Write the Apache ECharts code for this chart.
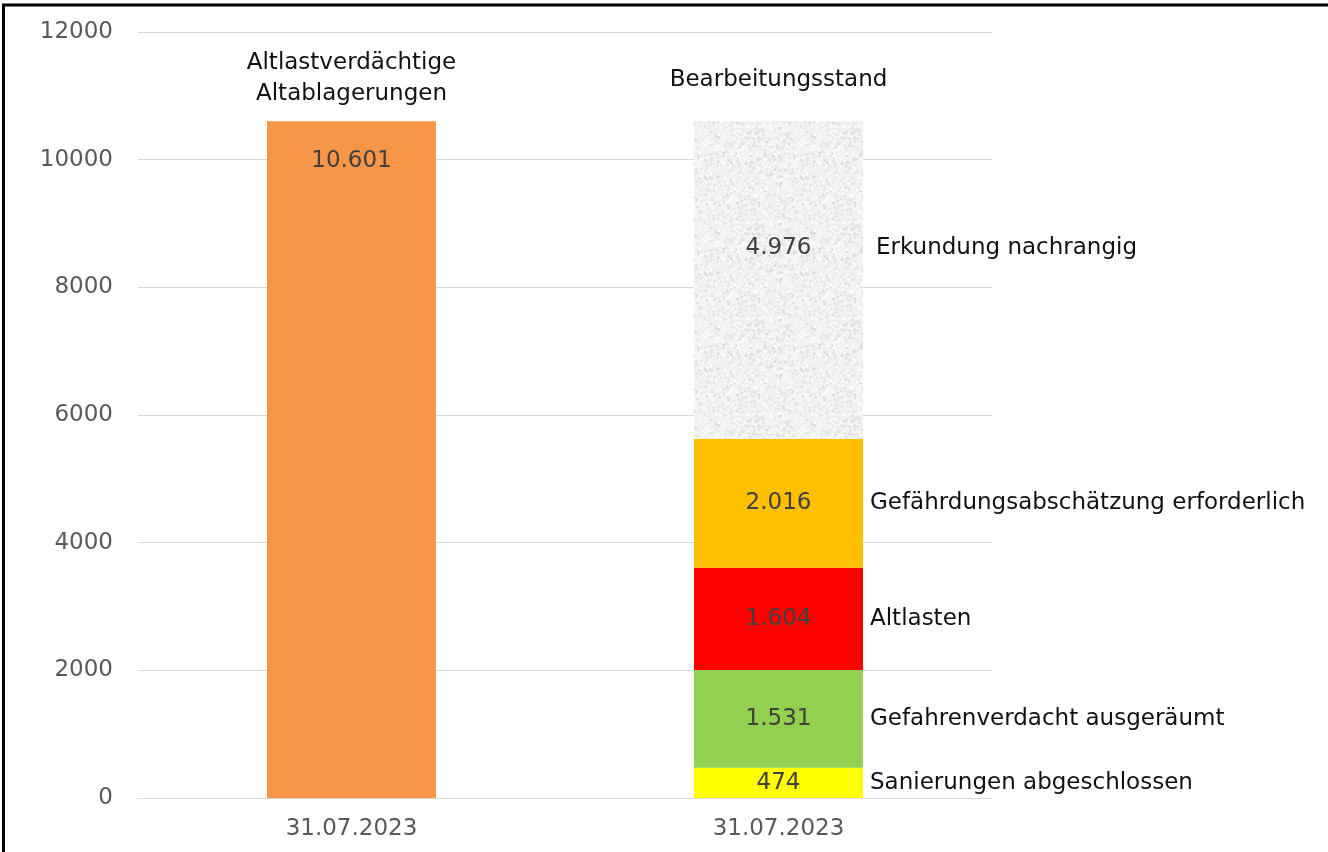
<!DOCTYPE html>
<html>
<head>
<meta charset="utf-8">
<title>Altlasten</title>
<script src="https://cdn.jsdelivr.net/npm/echarts@6/dist/echarts.min.js"></script>
<style>
  html, body { margin: 0; padding: 0; background: #ffffff; }
  #main { width: 1328px; height: 852px; }
</style>
</head>
<body>
<div id="main"></div>
<script>
// Daten
var categories = ['31.07.2023', '31.07.2023'];
var headings = ['Altlastverdächtige\nAltablagerungen', 'Bearbeitungsstand'];
var totalValues = [10601, '-'];
var segmentNames = [
  'Sanierungen abgeschlossen',
  'Gefahrenverdacht ausgeräumt',
  'Altlasten',
  'Gefährdungsabschätzung erforderlich',
  'Erkundung nachrangig'
];
var segmentValues = [474, 1531, 1604, 2016, 4976];
var yTicks = [0, 2000, 4000, 6000, 8000, 10000, 12000];

var segmentColors = ['#FFFF00', '#92D050', '#FF0000', '#FFC000', null];

// heller "Granit" als Füllmuster (fest, kein Zufall)
function makeTexture() {
  var c = document.createElement('canvas');
  c.width = 96; c.height = 96;
  var ctx = c.getContext('2d');
  ctx.fillStyle = '#F1F1F1';
  ctx.fillRect(0, 0, 96, 96);
  var s = 12345;
  function rnd() {
    s = (s * 1103515245 + 12345) % 2147483648;
    return s / 2147483648;
  }
  for (var i = 0; i < 1200; i++) {
    var x = rnd() * 96, y = rnd() * 96;
    var g = rnd() < 0.45 ? 216 + Math.floor(rnd() * 20) : 248 + Math.floor(rnd() * 7);
    ctx.fillStyle = 'rgb(' + g + ',' + g + ',' + g + ')';
    ctx.fillRect(x, y, 1 + rnd() * 2, 1 + rnd() * 2);
  }
  return c;
}
var texture = makeTexture();

function fmt(v) {
  return v >= 1000 ? Math.floor(v / 1000) + '.' + String(v % 1000).padStart(3, '0') : String(v);
}

var FONT = 'DejaVu Sans, sans-serif';
var FS = 23;
var BAR_W = 169;

var series = [];

// Stapel a: sichtbare Balken mit Wert
series.push({
  type: 'bar',
  stack: 'a',
  barWidth: BAR_W,
  barGap: '-100%',
  data: totalValues,
  itemStyle: { color: '#F79646' },
  label: {
    show: true,
    position: 'insideTop',
    distance: 28,
    fontFamily: FONT,
    fontSize: FS,
    color: '#404040',
    formatter: function (p) { return fmt(p.value); }
  }
});
for (var i = 0; i < segmentValues.length; i++) {
  var isLast = i === segmentValues.length - 1;
  series.push({
    type: 'bar',
    stack: 'a',
    barWidth: BAR_W,
    data: ['-', segmentValues[i]],
    itemStyle: { color: isLast ? { image: texture, repeat: 'repeat' } : segmentColors[i] },
    label: {
      show: true,
      position: isLast ? ['50%', '40%'] : 'inside',
      align: 'center',
      verticalAlign: 'middle',
      fontFamily: FONT,
      fontSize: FS,
      color: '#404040',
      formatter: function (p) { return fmt(p.value); }
    }
  });
}

// Stapel b: unsichtbare Kopie für Beschriftungen rechts und oben
series.push({
  type: 'bar',
  stack: 'b',
  barWidth: BAR_W,
  data: totalValues,
  itemStyle: { color: 'rgba(0,0,0,0)' },
  silent: true
});
for (var j = 0; j < segmentValues.length; j++) {
  var lastName = j === segmentValues.length - 1;
  series.push({
    type: 'bar',
    stack: 'b',
    barWidth: BAR_W,
    data: ['-', segmentValues[j]],
    itemStyle: { color: 'rgba(0,0,0,0)' },
    silent: true,
    label: {
      show: true,
      position: lastName ? ['100%', '40%'] : ['100%', '50%'],
      offset: [lastName ? 13 : 7, 0],
      align: 'left',
      verticalAlign: 'middle',
      fontFamily: FONT,
      fontSize: FS,
      color: '#111111',
      formatter: segmentNames[j]
    }
  });
}
series.push({
  type: 'bar',
  stack: 'b',
  barWidth: BAR_W,
  data: [
    { value: 0, label: { distance: 12 } },
    { value: 0, label: { distance: 26 } }
  ],
  itemStyle: { color: 'rgba(0,0,0,0)' },
  silent: true,
  label: {
    show: true,
    position: 'top',
    fontFamily: FONT,
    fontSize: FS,
    lineHeight: 31,
    color: '#111111',
    formatter: function (p) { return headings[p.dataIndex]; }
  }
});

var chart = echarts.init(document.getElementById('main'), null, { renderer: 'canvas' });
var option = {
  backgroundColor: '#ffffff',
  animation: false,
  grid: { left: 138, right: 336, top: 32, bottom: 54 },
  xAxis: {
    type: 'category',
    data: categories,
    axisLine: { lineStyle: { color: '#D9D9D9', width: 1 } },
    axisTick: { show: false },
    axisLabel: { fontFamily: FONT, fontSize: FS, color: '#595959', margin: 20 }
  },
  yAxis: {
    type: 'value',
    min: yTicks[0],
    max: yTicks[yTicks.length - 1],
    interval: yTicks[1] - yTicks[0],
    axisLine: { show: false },
    axisTick: { show: false },
    axisLabel: {
      fontFamily: FONT, fontSize: FS, color: '#595959', margin: 25,
      formatter: function (v) { return String(v); }
    },
    splitLine: { lineStyle: { color: '#D9D9D9', width: 1 } }
  },
  series: series,
  graphic: [
    { type: 'line', shape: { x1: 2, y1: 5, x2: 1328, y2: 5 }, style: { stroke: '#000', lineWidth: 3 } },
    { type: 'line', shape: { x1: 3.5, y1: 4, x2: 3.5, y2: 852 }, style: { stroke: '#000', lineWidth: 3 } }
  ]
};
chart.setOption(option);
</script>
</body>
</html>
